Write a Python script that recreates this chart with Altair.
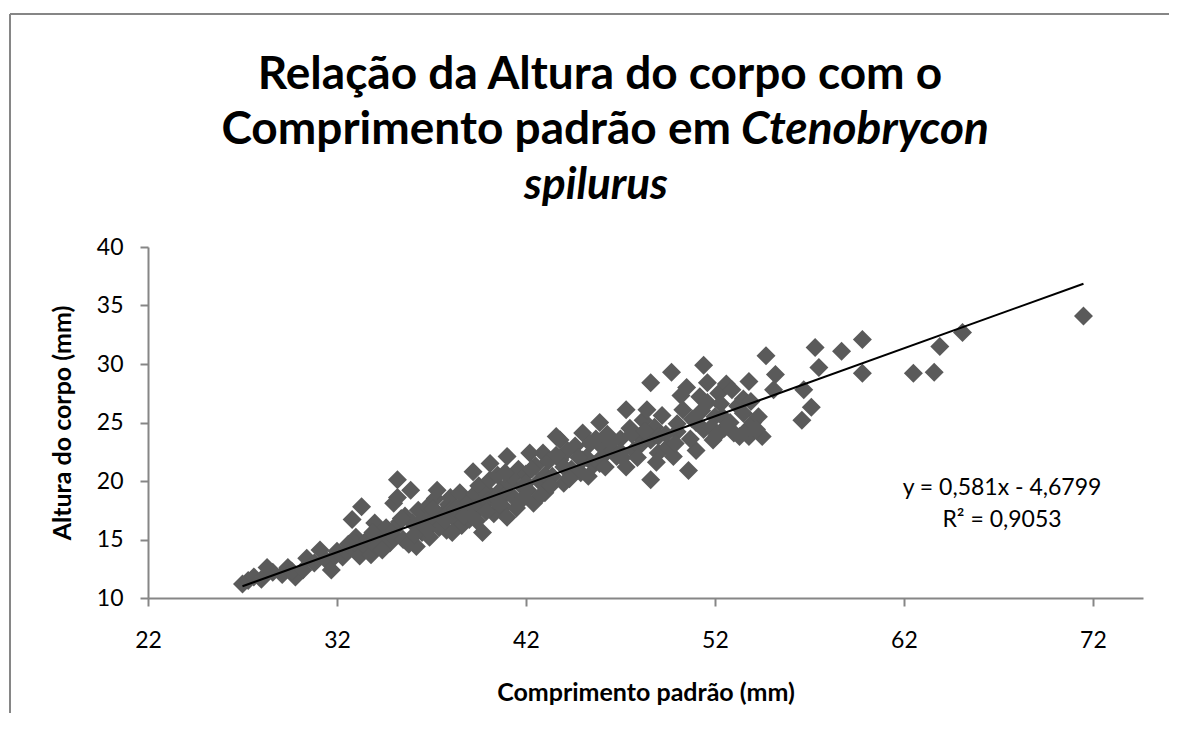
import altair as alt
import pandas as pd

# ---- text ----
title_line1 = "Relação da Altura do corpo com o"
title_line2a = "Comprimento padrão em"
title_line2b = "Ctenobrycon"
title_line3 = "spilurus"
x_title = "Comprimento padrão (mm)"
y_title = "Altura do corpo (mm)"
eq_line1 = "y = 0,581x - 4,6799"
eq_line2 = "R² = 0,9053"

# ---- trend line coefficients (as printed on the chart) ----
slope = 0.581
intercept = -4.6799

# ---- axes ----
x_ticks = [22, 32, 42, 52, 62, 72]
y_ticks = [10, 15, 20, 25, 30, 35, 40]

# ---- data ----
comprimento = [
    27.0, 27.3, 27.6, 28.0, 28.3, 28.6, 29.1, 29.4, 29.8, 29.6, 30.2, 30.4, 30.8, 31.1, 31.4, 31.7, 31.9,
    32.0, 32.3, 32.5, 32.8, 33.0, 33.0, 33.3, 33.2, 33.5, 33.6, 33.8, 34.0, 34.0, 34.1, 34.3, 34.5, 34.6,
    34.8, 34.9, 35.0, 35.0, 35.2, 35.2, 35.3, 35.5, 35.6, 35.8, 35.9, 36.0, 36.2, 36.3, 36.5, 36.6, 36.8,
    36.9, 37.0, 37.0, 37.2, 37.3, 37.4, 37.6, 37.8, 37.9, 38.0, 38.0, 38.2, 38.3, 38.5, 38.6, 38.8, 39.0,
    39.0, 39.1, 39.2, 39.3, 39.5, 39.6, 39.7, 39.8, 40.0, 40.0, 40.1, 40.1, 40.3, 40.4, 40.5, 40.7, 40.8,
    41.0, 41.0, 41.0, 41.1, 41.3, 41.4, 41.6, 41.8, 42.0, 42.0, 42.1, 42.2, 42.4, 42.5, 42.7, 42.9, 43.0,
    43.0, 43.2, 43.4, 43.6, 43.8, 43.8, 44.0, 44.0, 44.2, 44.4, 44.6, 44.9, 45.0, 45.0, 45.2, 45.4, 45.6,
    45.9, 45.9, 46.0, 46.1, 46.3, 46.6, 46.8, 47.0, 47.0, 47.3, 47.3, 47.5, 47.7, 48.0, 48.0, 48.2, 48.4,
    48.6, 48.6, 48.6, 48.8, 49.0, 49.0, 49.2, 49.5, 49.7, 49.8, 50.0, 50.0, 50.3, 50.5, 50.6, 50.8, 51.0,
    51.0, 51.2, 51.4, 51.4, 51.6, 51.6, 51.9, 52.0, 52.2, 52.4, 52.5, 52.6, 52.9, 53.0, 53.2, 53.5, 53.5,
    53.7, 53.8, 53.8, 54.0, 54.3, 54.5, 54.7, 55.1, 55.2, 56.6, 56.7, 57.1, 57.3, 57.5, 58.7, 59.8, 59.8,
    62.5, 63.6, 63.9, 65.1, 71.5,
    32.6, 33.9, 34.4, 35.4, 36.1, 36.7, 37.1, 37.7, 38.1, 38.7, 39.4, 39.9, 40.6, 40.9, 41.5, 41.9, 42.3,
    42.8, 43.3, 43.6, 44.3, 44.8, 45.3, 45.7, 46.2, 46.5, 47.1, 47.6, 47.9, 48.3, 48.9, 49.4, 49.9, 50.2,
    50.7, 51.3, 51.8, 52.3, 52.8, 53.3, 53.9, 54.2, 52.1,
]
altura = [
    11.2, 11.5, 11.8, 11.6, 12.6, 12.2, 12.0, 12.6, 11.8, 12.3, 12.4, 13.4, 13.0, 14.1, 13.3, 12.4, 13.6,
    14.0, 13.5, 14.0, 16.7, 15.2, 14.6, 17.8, 13.6, 14.4, 15.0, 13.7, 16.4, 15.2, 14.4, 15.6, 14.8, 16.0,
    14.7, 15.4, 18.1, 15.8, 20.1, 18.6, 16.5, 15.0, 17.0, 14.6, 19.2, 16.4, 14.4, 17.5, 15.6, 16.8, 17.8,
    15.2, 16.2, 17.0, 18.5, 19.2, 16.0, 17.2, 15.8, 18.0, 18.6, 17.5, 16.8, 17.6, 19.0, 16.2, 18.3, 16.7,
    18.2, 17.5, 20.8, 18.9, 19.6, 17.8, 15.6, 18.4, 19.0, 18.3, 21.5, 20.1, 17.2, 18.6, 20.5, 19.3, 17.8,
    22.1, 16.9, 19.0, 19.8, 20.3, 18.5, 21.0, 19.5, 20.6, 19.8, 19.2, 22.4, 18.1, 21.3, 20.0, 22.4, 19.0,
    20.5, 21.7, 20.4, 23.8, 23.5, 21.8, 19.8, 21.2, 22.6, 21.0, 23.0, 20.7, 24.1, 21.8, 22.0, 23.2, 21.4,
    25.0, 21.5, 22.0, 22.8, 24.0, 22.6, 22.1, 23.6, 22.5, 26.1, 21.2, 24.5, 22.6, 23.8, 23.0, 25.2, 26.1,
    28.4, 23.5, 20.1, 24.6, 22.4, 23.8, 25.6, 22.9, 29.3, 22.1, 24.2, 24.9, 26.1, 28.0, 20.9, 25.3, 22.6,
    25.0, 27.2, 29.9, 24.4, 28.4, 26.7, 23.5, 25.5, 27.5, 25.5, 24.5, 28.3, 27.8, 24.1, 26.4, 27.0, 25.8,
    24.4, 28.5, 23.8, 25.0, 25.5, 23.8, 30.7, 27.8, 29.1, 25.2, 27.8, 26.3, 31.4, 29.7, 31.1, 32.1, 29.2,
    29.2, 29.3, 31.5, 32.7, 34.1,
    14.6, 15.6, 14.1, 16.8, 15.4, 16.0, 17.6, 16.6, 15.6, 17.0, 16.6, 17.4, 18.0, 20.7, 17.7, 18.6, 21.0,
    18.8, 19.6, 22.2, 20.2, 22.0, 20.4, 23.6, 21.2, 23.3, 22.0, 24.0, 22.0, 24.3, 21.6, 24.0, 23.2, 27.3,
    23.6, 26.0, 24.6, 26.6, 25.0, 23.8, 26.8, 24.4, 23.9,
]

df = pd.DataFrame({"comprimento": comprimento, "altura": altura})

W, H = 995, 351
PAD_L, PAD_T, PAD_R, PAD_B = 140, 239, 26, 115
FONT = "Lato"
GRAY = "#868686"

x_enc = alt.X(
    "comprimento:Q",
    scale=alt.Scale(domain=[22, 74.65], nice=False, zero=False),
    axis=alt.Axis(values=x_ticks, title=x_title, labelPadding=23, labelFlush=False,
                  titleX=W / 2, titleY=94, titleBaseline="middle", titleFontSize=25),
)
y_enc = alt.Y(
    "altura:Q",
    scale=alt.Scale(domain=[10, 40], nice=False, zero=False),
    axis=alt.Axis(values=y_ticks, title=y_title, labelPadding=17, labelFlush=False,
                  titleX=-86, titleY=H / 2, titleAngle=270, titleAlign="center",
                  titleBaseline="middle", titleFontSize=25),
)

points = alt.Chart(df).mark_point(
    shape="diamond", filled=True, size=361, color="#5a5a5a", opacity=1
).encode(x=x_enc, y=y_enc)

trend = alt.Chart(
    pd.DataFrame({"comprimento": [min(comprimento), max(comprimento)]})
).transform_calculate(
    altura=f"{slope} * datum.comprimento + ({intercept})"
).mark_line(color="black", strokeWidth=2).encode(x="comprimento:Q", y="altura:Q")


def text_layer(txt, x, y, size, weight="normal", style="normal", align="center",
               baseline="alphabetic"):
    return alt.Chart(pd.DataFrame({"t": [txt]})).mark_text(
        font=FONT, fontSize=size, fontWeight=weight, fontStyle=style,
        align=align, baseline=baseline, color="black",
    ).encode(text="t:N", x=alt.value(x), y=alt.value(y))


title1 = text_layer(title_line1, 452, -158, 46, weight="bold")
title2a = text_layer(title_line2a, 583, -103, 46, weight="bold", align="right")
title2b = text_layer(title_line2b, 593, -103, 46, weight="bold", style="italic", align="left")
title3 = text_layer(title_line3, 448, -48, 44, weight="bold", style="italic")

eq1 = text_layer(eq_line1, 854, 241, 23, baseline="middle")
eq2 = text_layer(eq_line2, 854, 273, 23, baseline="middle")

frame_df = pd.DataFrame({"f": [0]})
frame_left = alt.Chart(frame_df).mark_rule(color=GRAY, strokeWidth=2).encode(
    x=alt.value(-138), y=alt.value(-233), y2=alt.value(H + PAD_B)
)
frame_top = alt.Chart(frame_df).mark_rule(color=GRAY, strokeWidth=2).encode(
    y=alt.value(-233), x=alt.value(-138), x2=alt.value(W + PAD_R)
)

chart = alt.layer(
    frame_left, frame_top, points, trend, eq1, eq2, title1, title2a, title2b, title3
).properties(
    width=W, height=H,
    autosize=alt.AutoSizeParams(type="none"),
    padding={"left": PAD_L, "top": PAD_T, "right": PAD_R, "bottom": PAD_B},
    background="white",
).configure_view(
    stroke=None
).configure_axis(
    grid=False,
    domainColor=GRAY, domainWidth=2,
    tickColor=GRAY, tickWidth=2, tickSize=8,
    labelFont=FONT, labelFontSize=23, labelColor="black",
    titleFont=FONT, titleFontWeight="bold", titleColor="black",
)

chart.save("out.html", embed_options={"renderer": "svg", "actions": False})
